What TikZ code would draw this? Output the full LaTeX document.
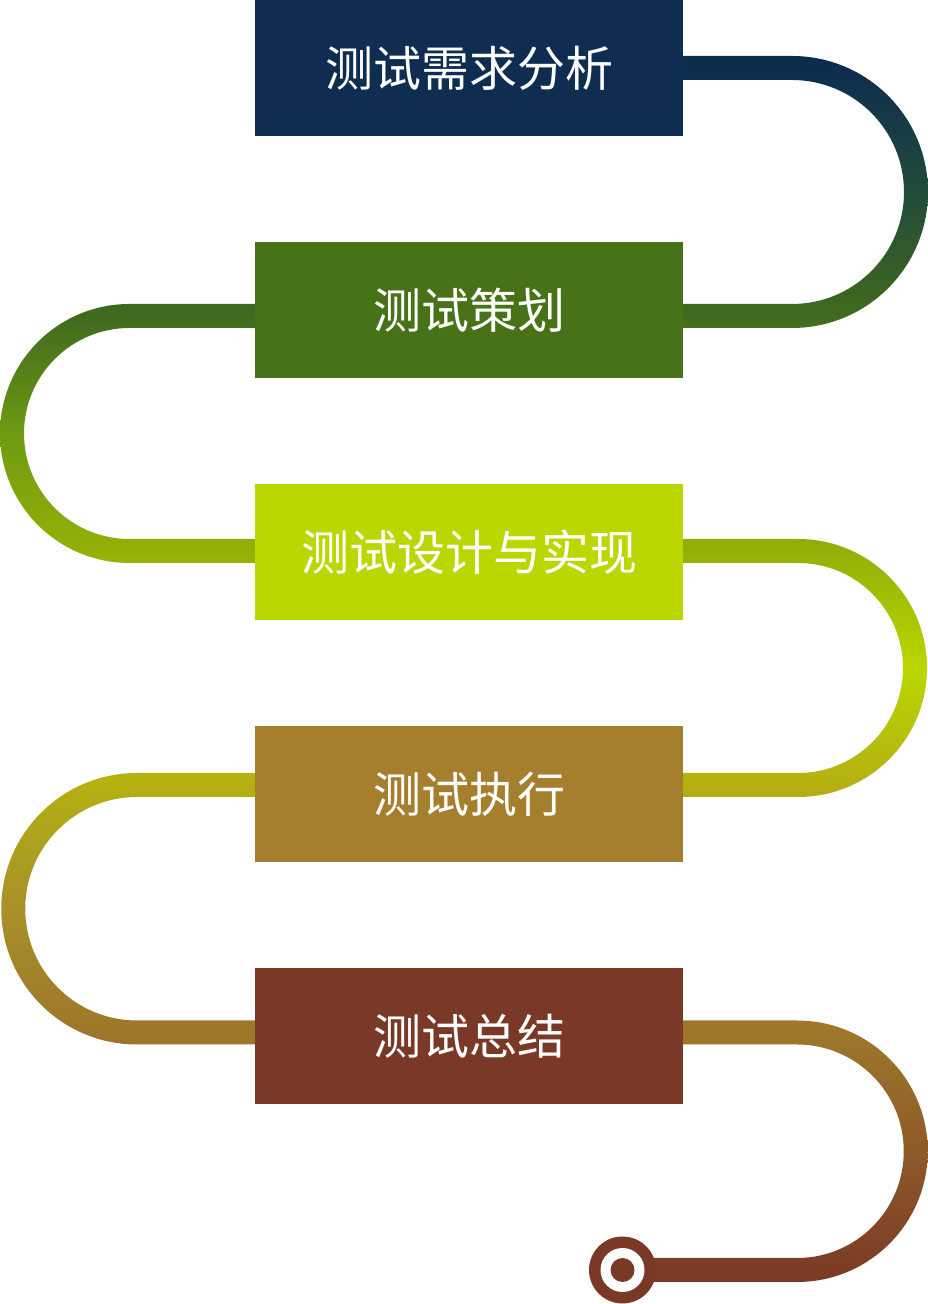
\documentclass[tikz,border=0pt]{standalone}
\usepackage{fontspec}
\newfontfamily\cjk{Noto Sans CJK SC}
\definecolor{cA}{HTML}{0E2D50}
\definecolor{cB}{HTML}{477217}
\definecolor{cC}{HTML}{BBD600}
\definecolor{cD}{HTML}{A57F2D}
\definecolor{cE}{HTML}{793926}
\definecolor{g75}{HTML}{0D2D4F}
\definecolor{g69}{HTML}{224B3A}
\definecolor{g64}{HTML}{416A1E}
\definecolor{g59}{HTML}{6E9A12}
\definecolor{g54}{HTML}{93B007}
\definecolor{g50}{HTML}{BBD600}
\definecolor{g45}{HTML}{B4B012}
\definecolor{g40}{HTML}{A8902A}
\definecolor{g35}{HTML}{9E772A}
\definecolor{g30}{HTML}{8D5A29}
\definecolor{g25}{HTML}{7A3926}
\pgfdeclareverticalshading{pathgrad}{100bp}{%
 color(0bp)=(g25); color(25bp)=(g25); color(30.34bp)=(g30); color(35.2bp)=(g35);
 color(40.25bp)=(g40); color(45.27bp)=(g45); color(50.04bp)=(g50); color(54.81bp)=(g54);
 color(59.62bp)=(g59); color(64.4bp)=(g64); color(69.45bp)=(g69); color(74.5bp)=(g75);
 color(75bp)=(g75); color(100bp)=(g75)}
% right loop: #1 top x0, #2 bottom x0, #3 top Y, #4 bottom Y, #5 centre x, #6 radius
\newcommand\rightloop[6]{(#1,#3+12) -- (#5,#3+12) arc[start angle=90,end angle=-90,radius=#6+12] -- (#2,#4-12) -- (#2,#4+12) -- (#5,#4+12) arc[start angle=-90,end angle=90,radius=#6-12] -- (#1,#3-12) -- cycle}
\newcommand\leftloop[6]{(#1,#3+12) -- (#5,#3+12) arc[start angle=90,end angle=270,radius=#6+12] -- (#2,#4-12) -- (#2,#4+12) -- (#5,#4+12) arc[start angle=270,end angle=90,radius=#6-12] -- (#1,#3-12) -- cycle}
\tikzset{
  stage/.style={rectangle, minimum width=428pt, minimum height=136pt, inner sep=0pt,
    text=white, font=\cjk\fontsize{48}{58}\selectfont},
}
\begin{document}
\begin{tikzpicture}[x=1pt,y=1pt]
\useasboundingbox (0,0) rectangle (928,1304);
% connectors (shaded band)
\shade[shading=pathgrad]
  \rightloop{683}{683}{1236}{988}{792}{124}
  \leftloop{255}{255}{988}{753}{129.5}{117.5}
  \rightloop{683}{683}{753}{519}{798}{117}
  \leftloop{255}{255}{519}{271.5}{137}{123.75}
  \rightloop{683}{622.5}{271.5}{34}{797}{118.75};
% end marker
\node[circle, fill=cE, minimum size=67pt, inner sep=0pt] (endo) at (622.5,34) {};
\node[circle, fill=white, minimum size=44pt, inner sep=0pt] (endw) at (endo.center) {};
\node[circle, fill=cE, minimum size=24pt, inner sep=0pt] (endi) at (endo.center) {};
% stages
\node[stage, fill=cA] (b1) at (469,1236) {测试需求分析};
\node[stage, fill=cB] (b2) at (469,994) {测试策划};
\node[stage, fill=cC] (b3) at (469,752) {测试设计与实现};
\node[stage, fill=cD] (b4) at (469,510) {测试执行};
\node[stage, fill=cE] (b5) at (469,268) {测试总结};
\end{tikzpicture}
\end{document}
